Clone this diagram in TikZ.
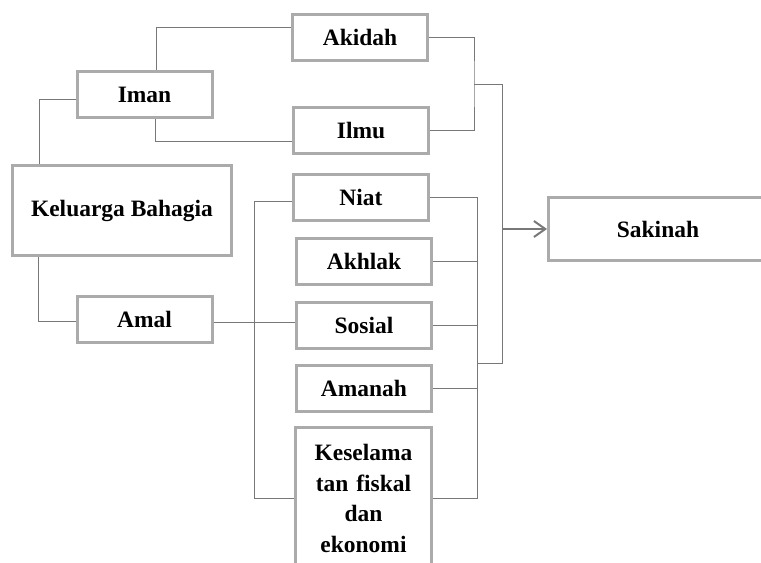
\documentclass[tikz,border=0pt]{standalone}
\usepackage{fontspec}
\setmainfont{Liberation Serif}
\usepackage{tikz}
\usetikzlibrary{arrows.meta}
\usetikzlibrary{calc}
\usetikzlibrary{positioning}

\begin{document}
\begin{tikzpicture}[x=0.75pt,y=-0.75pt,font=\fontsize{17.6}{23}\selectfont\bfseries]
 				 \tikzstyle{box}=[draw=black!33, line width=2.25pt, fill=white, minimum width=101.25pt, minimum height=34.5pt, inner sep=2pt]
 				 \tikzstyle{line}=[draw=black!53, line width=0.75pt]
 				 \tikzstyle{arr}=[draw=black!53, line width=1.5pt, -{Straight Barb[length=8.5pt,width=12pt]}]
 				 \useasboundingbox (0,0) rectangle (761,562);
 				 \clip (0,0) rectangle (761,562);
 					 \node[box] 			(Akidah) at (360,37.5)        		{Akidah};
 					 \node[box] 			(Iman) at (144.5,94.5)        		{Iman};
 					 \node[box] 			(Ilmu) at (361,130.5)         		{Ilmu};
 					 \node[box, minimum width=164.25pt, minimum height=67.5pt] 	(Keluarga) at (122,210.5) 	{Keluarga Bahagia};
 					 \node[box] 			(Niat) at (361,197.5)         		{Niat};
 					 \node[box] 			(Akhlak) at (364,261)         		{Akhlak};
 					 \node[box] 			(Amal) at (144.5,319)         		{Amal};
 					 \node[box] 			(Sosial) at (364,325.5)       		{Sosial};
 					 \node[box] 			(Amanah) at (364,388.5)       		{Amanah};
 					 \node[box, anchor=north, minimum width=102pt, text width=96pt, align=center, inner ysep=12.5pt] (Kes) at (363.5,426) {Keselama\\tan fiskal\\dan\\ekonomi};
 					 \node[box, minimum width=164.25pt, minimum height=47.25pt] 	(Sakinah) at (658,229)  	{Sakinah};
 					 \coordinate (jIman) at (474,84);
 					 \coordinate (kTop) at (502,84);
 					 \coordinate (kBot) at (502,363);
 					 \coordinate (rBot) at (477,498);
 					 \coordinate (lBot) at (254,498);
				\path[line]
				($(Iman.north)+(11.5,0)$) |- ($(Akidah.west)+(0,-10.5)$)
				($(Iman.west)+(0,4.5)$) -| ($(Keluarga.north)+(-83,0)$)
				($(Iman.south)+(10.5,0)$) |- ($(Ilmu.west)+(0,10.5)$)
				($(Keluarga.south)+(-84,0)$) |- ($(Amal.west)+(0,2)$)
				(Akidah.east) -| (jIman) |- (Ilmu.east)
				(jIman) -- (kTop) -- (kBot) -- (kBot -| rBot)
				(Niat.east) -| (rBot) -- ($(Kes.north east)+(0,72)$)
				(Akhlak.east) -- (Akhlak.east -| rBot)
				(Sosial.east) -- (Sosial.east -| rBot)
				(Amanah.east) -- (Amanah.east -| rBot)
				($(Niat.west)+(0,3.5)$) -| (lBot) -- ($(Kes.north west)+(0,72)$)
				($(Akhlak.west)+(0,2)$) -- ($(Akhlak.west)+(0,2)$ -| lBot)
				($(Amanah.west)+(0,-1.5)$) -- ($(Amanah.west)+(0,-1.5)$ -| lBot)
				($(Amal.east)+(0,3)$) -- ($(Sosial.west)+(0,-3.5)$);
				\path[arr] (Sakinah.west -| kTop) -- (Sakinah.west);
\end{tikzpicture}
\end{document}
